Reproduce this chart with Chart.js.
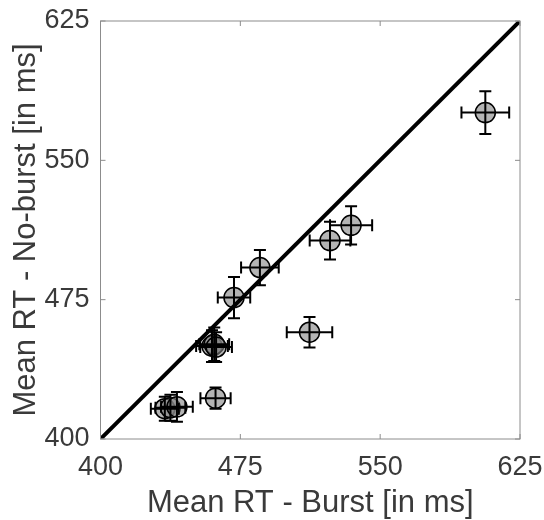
<!DOCTYPE html>
<html>
<head>
<meta charset="utf-8">
<script src="https://cdn.jsdelivr.net/npm/chart.js@4"></script>
<style>
  html, body { margin: 0; padding: 0; background: white; }
  #box { width: 544px; height: 520px; }
</style>
</head>
<body>
<div id="box"><canvas id="grafico"></canvas></div>
<script>
// valores (ms)
const rtBurst    = [606.4, 534.4, 523.1, 485.5, 471.6, 512.1, 459.8, 461.0, 462.0, 461.7, 434.5, 437.5, 441.0];
const rtNoBurst  = [575.7, 515.0, 506.8, 492.3, 476.1, 457.5, 450.0, 451.0, 449.5, 422.0, 416.3, 416.8, 417.3];
const errBurst   = [12.8, 11.3, 10.9, 10.1, 8.7, 12.2, 8.5, 8.0, 8.5, 8.1, 7.5, 8.0, 8.5];
const errNoBurst = [11.5, 10.3, 10.2, 9.5, 11.1, 8.2, 8.5, 9.0, 8.0, 5.7, 6.5, 7.0, 8.0];
const tickValues = [400, 475, 550, 625];
const diagonal   = [400, 625];

const textColor = '#3a3a3a';
const fonte = 'Liberation Sans, Arial, sans-serif';

var pontos = rtBurst.map((v, i) => ({ x: v, y: rtNoBurst[i] }));
var linha = diagonal.map(v => ({ x: v, y: v }));

// barras de erro + moldura com ticks para dentro
const errorBars = {
    id: 'errorBars',
    afterDatasetsDraw(chart) {
        const ctx = chart.ctx;
        const xs = chart.scales.x;
        const ys = chart.scales.y;
        const cap = 6;
        ctx.save();
        ctx.strokeStyle = '#000';
        ctx.lineWidth = 2;
        for (let i = 0; i < rtBurst.length; i++) {
            const px = xs.getPixelForValue(rtBurst[i]);
            const py = ys.getPixelForValue(rtNoBurst[i]);
            const x1 = xs.getPixelForValue(rtBurst[i] - errBurst[i]);
            const x2 = xs.getPixelForValue(rtBurst[i] + errBurst[i]);
            const y1 = ys.getPixelForValue(rtNoBurst[i] - errNoBurst[i]);
            const y2 = ys.getPixelForValue(rtNoBurst[i] + errNoBurst[i]);
            ctx.beginPath();
            ctx.moveTo(x1, py); ctx.lineTo(x2, py);
            ctx.moveTo(x1, py - cap); ctx.lineTo(x1, py + cap);
            ctx.moveTo(x2, py - cap); ctx.lineTo(x2, py + cap);
            ctx.moveTo(px, y1); ctx.lineTo(px, y2);
            ctx.moveTo(px - cap, y1); ctx.lineTo(px + cap, y1);
            ctx.moveTo(px - cap, y2); ctx.lineTo(px + cap, y2);
            ctx.stroke();
        }
        ctx.restore();
    },
    afterDraw(chart) {
        const ctx = chart.ctx;
        const a = chart.chartArea;
        const xs = chart.scales.x;
        const ys = chart.scales.y;
        const tl = 5;
        ctx.save();
        ctx.strokeStyle = '#8c8c8c';
        ctx.lineWidth = 1;
        ctx.strokeRect(a.left, a.top, a.right - a.left, a.bottom - a.top);
        ctx.beginPath();
        tickValues.forEach(v => {
            const px = xs.getPixelForValue(v);
            const py = ys.getPixelForValue(v);
            ctx.moveTo(px, a.bottom); ctx.lineTo(px, a.bottom - tl);
            ctx.moveTo(px, a.top); ctx.lineTo(px, a.top + tl);
            ctx.moveTo(a.left, py); ctx.lineTo(a.left + tl, py);
            ctx.moveTo(a.right, py); ctx.lineTo(a.right - tl, py);
        });
        ctx.stroke();
        ctx.restore();
    }
};

function criarGrafico() {
    const ctx = document.getElementById('grafico');

    new Chart(ctx, {
        type: 'scatter',
        data: {
            datasets: [{
                type: 'line',
                data: linha,
                borderColor: '#000',
                borderWidth: 4,
                pointRadius: 0,
                fill: false
            }, {
                data: pontos,
                pointRadius: 10,
                pointBackgroundColor: 'rgba(130,130,130,0.6)',
                pointBorderColor: '#000',
                pointBorderWidth: 1.5
            }]
        },
        plugins: [errorBars],
        options: {
            responsive: true,
            maintainAspectRatio: false,
            animation: false,
            layout: { padding: { top: 21, right: 24, left: 0, bottom: 0 } },
            plugins: {
                legend: { display: false },
                tooltip: { enabled: false }
            },
            scales: {
                x: {
                    type: 'linear',
                    min: 400,
                    max: 625,
                    afterBuildTicks: (s) => { s.ticks = tickValues.map(v => ({ value: v })); },
                    afterFit: (s) => { s.height = 81; s.paddingLeft = 0; s.paddingRight = 0; },
                    grid: { display: false, drawTicks: false },
                    border: { display: false },
                    ticks: {
                        color: textColor,
                        padding: 12,
                        maxRotation: 0,
                        font: { family: fonte, size: 27 }
                    },
                    title: {
                        display: true,
                        text: 'Mean RT - Burst [in ms]',
                        color: textColor,
                        padding: { top: 0, bottom: 1 },
                        font: { family: fonte, size: 31, lineHeight: 1 }
                    }
                },
                y: {
                    type: 'linear',
                    min: 400,
                    max: 625,
                    afterBuildTicks: (s) => { s.ticks = tickValues.map(v => ({ value: v })); },
                    afterFit: (s) => { s.width = 100.5; s.paddingTop = 0; s.paddingBottom = 0; },
                    grid: { display: false, drawTicks: false },
                    border: { display: false },
                    ticks: {
                        color: textColor,
                        padding: 11,
                        font: { family: fonte, size: 27 }
                    },
                    title: {
                        display: true,
                        text: 'Mean RT - No-burst [in ms]',
                        color: textColor,
                        padding: { top: 11, bottom: 0 },
                        font: { family: fonte, size: 31, lineHeight: 1 }
                    }
                }
            }
        }
    });
}

criarGrafico();
</script>
</body>
</html>
